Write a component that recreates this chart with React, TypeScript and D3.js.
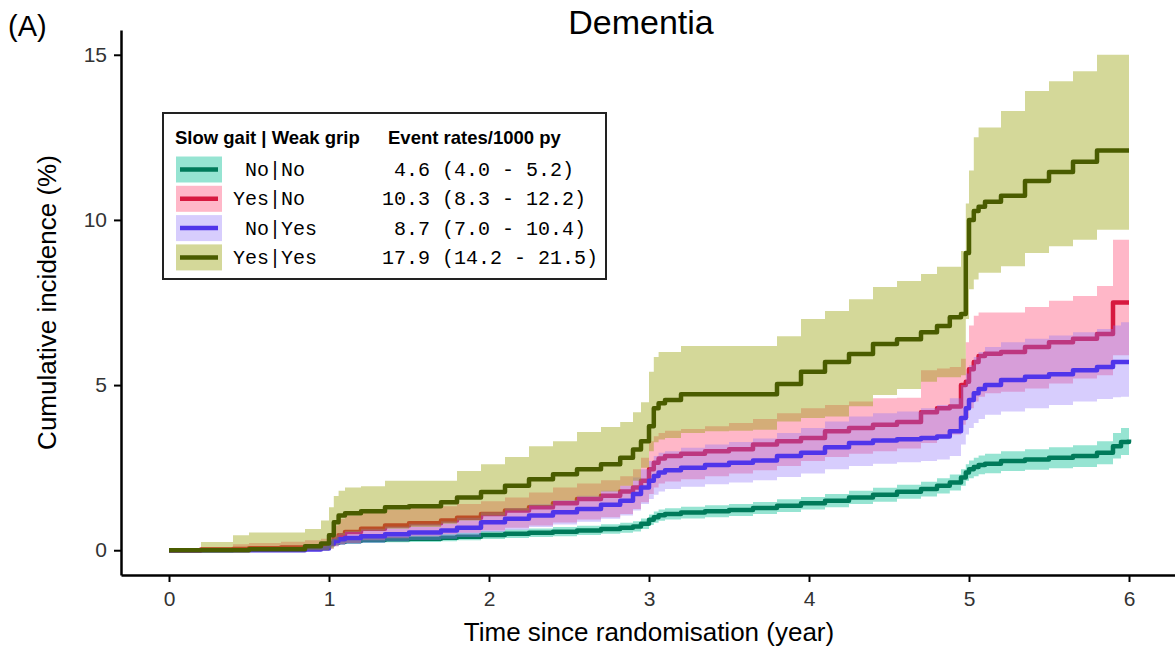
import React, { useEffect, useRef } from "react";
import * as d3 from "d3";

// time points (years since randomisation) where the step curves change
const years = [
  0, 0.2, 0.4, 0.5, 0.7, 0.85, 0.95, 1.0,
  1.03, 1.06, 1.1, 1.2, 1.35, 1.5, 1.7, 1.8,
  1.95, 2.1, 2.25, 2.4, 2.55, 2.7, 2.82, 2.9,
  2.95, 3.0, 3.03, 3.06, 3.1, 3.2, 3.35, 3.5,
  3.65, 3.8, 3.95, 4.1, 4.25, 4.4, 4.55, 4.7,
  4.8, 4.88, 4.95, 4.98, 5.0, 5.03, 5.06, 5.1,
  5.2, 5.35, 5.5, 5.65, 5.8, 5.9, 5.95, 6.0,
];

// No|No
const nnEst = [
  0, 0.01, 0.02, 0.03, 0.05, 0.07, 0.12, 0.18,
  0.22, 0.25, 0.28, 0.31, 0.33, 0.35, 0.38, 0.41,
  0.46, 0.5, 0.53, 0.56, 0.6, 0.64, 0.68, 0.72,
  0.8, 0.92, 1.0, 1.06, 1.1, 1.14, 1.18, 1.22,
  1.28, 1.35, 1.42, 1.5, 1.6, 1.68, 1.77, 1.85,
  1.95, 2.05, 2.2, 2.35, 2.45, 2.52, 2.58, 2.62,
  2.7, 2.75, 2.8, 2.85, 2.95, 3.15, 3.28, 3.35,
];
const nnLo = [
  0, 0, 0.005, 0.01, 0.02, 0.03, 0.07, 0.11,
  0.14, 0.17, 0.19, 0.22, 0.24, 0.25, 0.27, 0.3,
  0.34, 0.37, 0.4, 0.42, 0.46, 0.5, 0.53, 0.57,
  0.64, 0.76, 0.83, 0.89, 0.93, 0.96, 1.0, 1.04,
  1.1, 1.16, 1.23, 1.3, 1.4, 1.47, 1.56, 1.63,
  1.72, 1.81, 1.95, 2.1, 2.18, 2.24, 2.3, 2.33,
  2.4, 2.44, 2.48, 2.52, 2.6, 2.78, 2.88, 2.92,
];
const nnHi = [
  0, 0.02, 0.04, 0.06, 0.09, 0.12, 0.18, 0.26,
  0.3, 0.34, 0.37, 0.41, 0.43, 0.46, 0.5, 0.53,
  0.58, 0.63, 0.66, 0.7, 0.74, 0.79, 0.83, 0.88,
  0.96, 1.08, 1.17, 1.23, 1.27, 1.32, 1.36, 1.4,
  1.46, 1.54, 1.61, 1.7, 1.8, 1.89, 1.98, 2.07,
  2.18, 2.29, 2.45, 2.6, 2.72, 2.8, 2.87, 2.92,
  3.0, 3.06, 3.12, 3.18, 3.3, 3.55, 3.7, 3.8,
];

// Yes|No
const ynEst = [
  0, 0.02, 0.04, 0.06, 0.08, 0.1, 0.13, 0.2,
  0.35, 0.45, 0.55, 0.65, 0.75, 0.82, 0.9, 0.98,
  1.1, 1.2, 1.3, 1.42, 1.55, 1.65, 1.78, 1.9,
  2.1, 2.45, 2.65, 2.78, 2.85, 2.92, 3.0, 3.06,
  3.2, 3.3, 3.4, 3.6, 3.7, 3.8, 3.88, 4.18,
  4.3, 4.35, 5.0, 5.1, 5.48, 5.7, 5.88, 5.95,
  6.0, 6.15, 6.3, 6.4, 6.55, 7.5, 7.5, 7.5,
];
const ynLo = [
  0, 0, 0, 0, 0, 0, 0.02, 0.05,
  0.12, 0.18, 0.22, 0.3, 0.36, 0.42, 0.48, 0.53,
  0.6, 0.68, 0.75, 0.84, 0.93, 1.0, 1.1, 1.25,
  1.45, 1.7, 1.9, 2.02, 2.08, 2.15, 2.24, 2.32,
  2.42, 2.55, 2.7, 2.82, 2.92, 3.0, 3.08, 3.25,
  3.4, 3.5, 3.8, 4.0, 4.3, 4.5, 4.65, 4.75,
  4.8, 4.9, 5.05, 5.2, 5.3, 5.9, 5.9, 5.9,
];
const ynHi = [
  0, 0.1, 0.18, 0.22, 0.26, 0.3, 0.35, 0.5,
  0.75, 0.95, 1.05, 1.15, 1.22, 1.28, 1.33, 1.4,
  1.48, 1.6, 1.75, 1.9, 2.02, 2.12, 2.24, 2.45,
  2.8, 3.3, 3.45, 3.55, 3.62, 3.67, 3.75, 3.85,
  3.97, 4.15, 4.3, 4.4, 4.5, 4.6, 4.62, 5.45,
  5.5, 5.55, 5.8, 6.3, 6.8, 7.1, 7.2, 7.2,
  7.2, 7.36, 7.55, 7.7, 8.0, 9.4, 9.4, 9.4,
];

// No|Yes
const nyEst = [
  0, 0, 0, 0, 0, 0.02, 0.05, 0.2,
  0.28, 0.33, 0.37, 0.42, 0.48, 0.54, 0.6, 0.68,
  0.85, 0.95, 1.05, 1.15, 1.25, 1.38, 1.5, 1.7,
  1.9, 2.1, 2.25, 2.35, 2.42, 2.5, 2.58, 2.65,
  2.72, 2.85, 2.95, 3.12, 3.25, 3.32, 3.36, 3.4,
  3.44, 3.6, 4.0, 4.3, 4.55, 4.75, 4.88, 5.0,
  5.15, 5.25, 5.33, 5.45, 5.55, 5.7, 5.7, 5.7,
];
const nyLo = [
  0, 0, 0, 0, 0, 0, 0, 0.05,
  0.12, 0.16, 0.19, 0.22, 0.27, 0.31, 0.35, 0.4,
  0.55, 0.62, 0.7, 0.78, 0.86, 0.95, 1.05, 1.2,
  1.4, 1.55, 1.68, 1.78, 1.85, 1.92, 2.0, 2.05,
  2.12, 2.22, 2.32, 2.45, 2.55, 2.62, 2.66, 2.7,
  2.75, 2.85, 3.2, 3.5, 3.7, 3.85, 3.97, 4.1,
  4.2, 4.3, 4.4, 4.5, 4.58, 4.63, 4.65, 4.65,
];
const nyHi = [
  0, 0, 0.01, 0.02, 0.03, 0.06, 0.12, 0.35,
  0.45, 0.52, 0.58, 0.65, 0.72, 0.8, 0.88, 0.98,
  1.15, 1.28, 1.4, 1.52, 1.65, 1.8, 1.95, 2.2,
  2.45, 2.7, 2.85, 2.95, 3.0, 3.1, 3.2, 3.28,
  3.38, 3.55, 3.7, 3.9, 4.05, 4.15, 4.2, 4.3,
  4.4, 4.6, 5.0, 5.35, 5.6, 5.85, 6.0, 6.15,
  6.3, 6.4, 6.5, 6.6, 6.7, 6.8, 6.9, 6.9,
];

// Yes|Yes
const yyEst = [
  0, 0, 0, 0.03, 0.03, 0.12, 0.2, 0.45,
  0.85, 1.05, 1.12, 1.18, 1.3, 1.33, 1.45, 1.6,
  1.76, 1.95, 2.15, 2.3, 2.45, 2.6, 2.8, 3.05,
  3.3, 3.75, 4.3, 4.45, 4.55, 4.72, 4.72, 4.72,
  4.72, 5.03, 5.4, 5.7, 5.94, 6.24, 6.39, 6.6,
  6.79, 7.05, 7.15, 9.0, 10.0, 10.27, 10.4, 10.55,
  10.73, 11.18, 11.45, 11.76, 12.1, 12.1, 12.1, 12.1,
];
const yyLo = [
  0, 0, 0, 0, 0, 0, 0, 0.05,
  0.3, 0.45, 0.55, 0.6, 0.65, 0.7, 0.8, 0.9,
  1.05, 1.2, 1.35, 1.5, 1.62, 1.78, 1.95, 2.1,
  2.5, 3.0, 3.27, 3.35, 3.4, 3.55, 3.6, 3.62,
  3.65, 3.9, 4.0, 4.05, 4.36, 4.7, 4.88, 5.1,
  5.24, 5.24, 5.3, 7.0, 7.9, 8.2, 8.4, 8.4,
  8.6, 9.0, 9.2, 9.4, 9.7, 9.7, 9.7, 9.7,
];
const yyHi = [
  0, 0.25, 0.45, 0.54, 0.54, 0.64, 0.9, 1.3,
  1.64, 1.8, 1.9, 1.94, 2.1, 2.1, 2.1, 2.4,
  2.6, 2.82, 3.15, 3.3, 3.58, 3.73, 3.88, 4.18,
  4.48, 5.4, 5.85, 6.0, 6.0, 6.18, 6.18, 6.18,
  6.18, 6.48, 7.0, 7.24, 7.6, 7.97, 8.15, 8.36,
  8.58, 8.58, 9.06, 10.5, 11.5, 12.5, 12.8, 12.8,
  13.3, 13.9, 14.2, 14.5, 15.0, 15.0, 15.0, 15.0,
];

const groupLabels = [" No|No", "Yes|No", " No|Yes", "Yes|Yes"];
const rateLabels = [
  " 4.6 (4.0 - 5.2)",
  "10.3 (8.3 - 12.2)",
  " 8.7 (7.0 - 10.4)",
  "17.9 (14.2 - 21.5)",
];
const xTicks = [0, 1, 2, 3, 4, 5, 6];
const yTicks = [0, 5, 10, 15];

const lineColors = ["#007a5a", "#d7193f", "#4f35ea", "#4a5c00"];
const bandColors = [
  "rgba(22,195,155,0.45)",
  "rgba(255,111,145,0.5)",
  "rgba(141,112,249,0.35)",
  "rgba(148,157,0,0.4)",
];

const sans = "'Liberation Sans', Arial, sans-serif";
const mono = "'Liberation Mono', 'Courier New', monospace";

const App: React.FC = () => {
  const svgRef = useRef<SVGSVGElement | null>(null);

  useEffect(() => {
    const width = 1175;
    const height = 649;
    const left = 121;
    const right = 1177;
    const top = 30;
    const bottom = 575;

    const x = d3.scaleLinear().domain([-0.3, 6.3]).range([left, right]);
    const y = d3.scaleLinear().domain([-0.75, 15.75]).range([bottom, top]);

    const svg = d3
      .select(svgRef.current)
      .attr("width", width)
      .attr("height", height)
      .attr("viewBox", [0, 0, width, height]);
    svg.selectAll("*").remove();

    svg.append("rect").attr("width", width).attr("height", height).attr("fill", "#fff");

    const series = [
      { est: nnEst, lo: nnLo, hi: nnHi },
      { est: ynEst, lo: ynLo, hi: ynHi },
      { est: nyEst, lo: nyLo, hi: nyHi },
      { est: yyEst, lo: yyLo, hi: yyHi },
    ];

    // each group: ribbon first, then its step line
    const plot = svg.append("g");
    series.forEach((s, k) => {
      const band = d3
        .area<number>()
        .x((_, i) => x(years[i]))
        .y0((_, i) => y(s.lo[i]))
        .y1((_, i) => y(s.hi[i]))
        .curve(d3.curveStepAfter);
      const line = d3
        .line<number>()
        .x((_, i) => x(years[i]))
        .y((d) => y(d))
        .curve(d3.curveStepAfter);

      plot
        .append("path")
        .datum(s.est)
        .attr("d", band)
        .attr("fill", bandColors[k])
        .attr("stroke", "none");
      plot
        .append("path")
        .datum(s.est)
        .attr("d", line)
        .attr("fill", "none")
        .attr("stroke", lineColors[k])
        .attr("stroke-width", 4.5)
        .attr("stroke-linejoin", "round");
    });

    // axes
    const gx = svg
      .append("g")
      .attr("transform", `translate(0,${bottom})`)
      .call(
        d3
          .axisBottom(x)
          .tickValues(xTicks)
          .tickFormat(d3.format("d"))
          .tickSize(7)
          .tickSizeOuter(0)
          .tickPadding(9),
      );
    const gy = svg
      .append("g")
      .attr("transform", `translate(${left},0)`)
      .call(
        d3
          .axisLeft(y)
          .tickValues(yTicks)
          .tickFormat(d3.format("d"))
          .tickSize(7)
          .tickSizeOuter(0)
          .tickPadding(7),
      );

    [gx, gy].forEach((g) => {
      g.select(".domain").attr("stroke", "#000").attr("stroke-width", 2.5);
      g.selectAll(".tick line").attr("stroke", "#000").attr("stroke-width", 2);
      g.selectAll(".tick text")
        .attr("fill", "#333")
        .style("font-family", sans)
        .style("font-size", "21px");
    });

    // titles
    svg
      .append("text")
      .attr("x", 641)
      .attr("y", 34)
      .attr("text-anchor", "middle")
      .style("font-family", sans)
      .style("font-size", "34px")
      .text("Dementia");
    svg
      .append("text")
      .attr("x", 8)
      .attr("y", 36)
      .style("font-family", sans)
      .style("font-size", "29px")
      .text("(A)");
    svg
      .append("text")
      .attr("x", (left + right) / 2)
      .attr("y", 641)
      .attr("text-anchor", "middle")
      .style("font-family", sans)
      .style("font-size", "26px")
      .text("Time since randomisation (year)");
    svg
      .append("text")
      .attr("transform", `translate(56,${(top + bottom) / 2}) rotate(-90)`)
      .attr("text-anchor", "middle")
      .style("font-family", sans)
      .style("font-size", "26px")
      .text("Cumulative incidence (%)");

    // legend
    const lg = svg.append("g");
    lg.append("rect")
      .attr("x", 163)
      .attr("y", 113)
      .attr("width", 443)
      .attr("height", 166)
      .attr("fill", "#fff")
      .attr("stroke", "#222")
      .attr("stroke-width", 2);
    lg.append("text")
      .attr("x", 175)
      .attr("y", 144)
      .style("font-family", sans)
      .style("font-size", "18.5px")
      .style("font-weight", "bold")
      .text("Slow gait | Weak grip");
    lg.append("text")
      .attr("x", 388)
      .attr("y", 144)
      .style("font-family", sans)
      .style("font-size", "18.5px")
      .style("font-weight", "bold")
      .text("Event rates/1000 py");

    groupLabels.forEach((label, k) => {
      const cy = 169.5 + k * 29.3;
      lg.append("rect")
        .attr("x", 176)
        .attr("y", cy - 13)
        .attr("width", 46)
        .attr("height", 26)
        .attr("fill", bandColors[k]);
      lg.append("line")
        .attr("x1", 180)
        .attr("x2", 218)
        .attr("y1", cy)
        .attr("y2", cy)
        .attr("stroke", lineColors[k])
        .attr("stroke-width", 4.5);
      lg.append("text")
        .attr("x", 233)
        .attr("y", cy + 6.5)
        .attr("xml:space", "preserve")
        .style("white-space", "pre")
        .style("font-family", mono)
        .style("font-size", "20px")
        .text(label);
      lg.append("text")
        .attr("x", 382)
        .attr("y", cy + 6.5)
        .attr("xml:space", "preserve")
        .style("white-space", "pre")
        .style("font-family", mono)
        .style("font-size", "20px")
        .text(rateLabels[k]);
    });
  }, []);

  return (
    <svg
      ref={svgRef}
      style={{ position: "absolute", left: 0, top: 0, display: "block" }}
    ></svg>
  );
};

export default App;
